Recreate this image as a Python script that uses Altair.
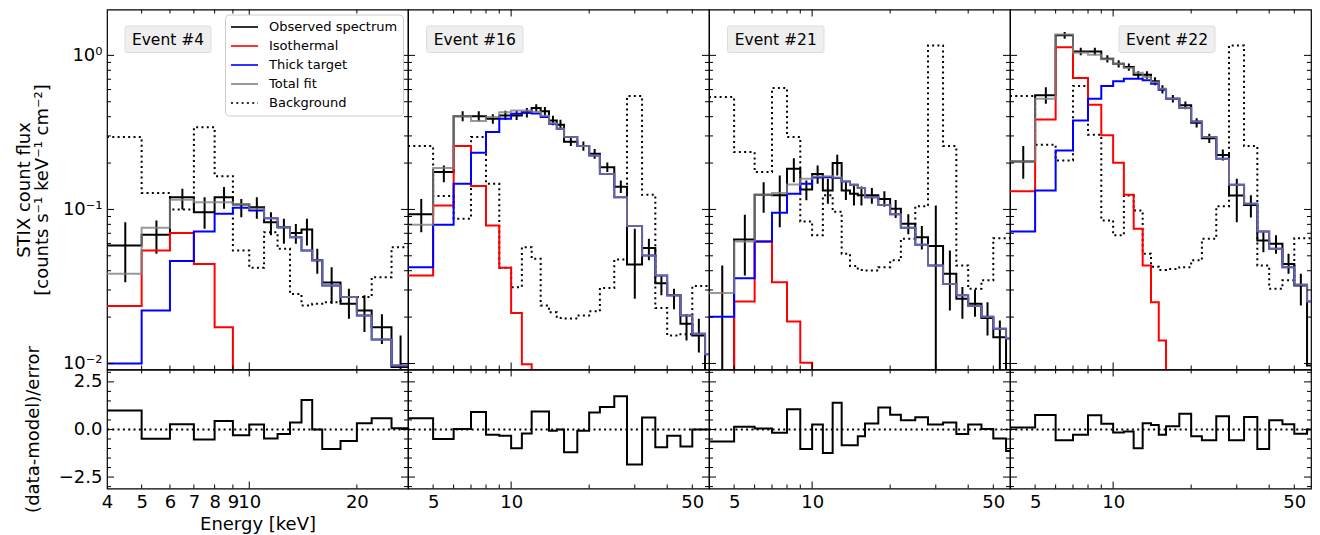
import altair as alt
import pandas as pd

FONT = "DejaVu Sans"

# ---------------- data ----------------
EDGES = [4, 5, 6, 7, 8, 9, 10, 11, 12, 13, 14, 15, 16, 18, 20, 22, 25, 28,
         32, 36, 40, 45, 50, 56, 63]
EVENTS = ["Event #4", "Event #16", "Event #21", "Event #22"]
SERIES = ["Observed spectrum", "Isothermal", "Thick target", "Total fit", "Background"]
OFF = 1e-4  # value below the plotted range (clipped away)

# Event #4 (bins 4 ... 28 keV)
e4_obs = [0.0584, 0.0684, 0.120, 0.096, 0.120, 0.1078, 0.1035, 0.0827, 0.0767, 0.0702,
          0.0741, 0.0467, 0.0335, 0.0244, 0.0221, 0.0172, 0.0095]
e4_lo = [0.0337, 0.0515, 0.100, 0.0748, 0.101, 0.089, 0.087, 0.068, 0.0598, 0.0598,
         0.0584, 0.0382, 0.0244, 0.0195, 0.016, 0.0134, 0.004]
e4_hi = [0.0827, 0.0849, 0.136, 0.120, 0.1396, 0.117, 0.120, 0.096, 0.087, 0.0805,
         0.087, 0.0555, 0.0422, 0.0305, 0.0277, 0.0209, 0.0152]
e4_iso = [0.0236, 0.0542, 0.0702, 0.0443, 0.0172, OFF, OFF, OFF, OFF, OFF, OFF, OFF,
          OFF, OFF, OFF, OFF, OFF]
e4_thick = [0.0100, 0.0221, 0.0462, 0.072, 0.0937, 0.1024, 0.0985, 0.0878, 0.0767, 0.066,
            0.0542, 0.0467, 0.0321, 0.027, 0.0205, 0.0143, 0.0097]
e4_total = [0.0382, 0.076, 0.1155, 0.1115, 0.1115, 0.108, 0.101, 0.0878, 0.0767, 0.066,
            0.0542, 0.0467, 0.0321, 0.027, 0.0205, 0.0143, 0.0097]
e4_bg = [0.295, 0.128, 0.100, 0.342, 0.1645, 0.0542, 0.0418, 0.0712, 0.0555, 0.0283,
         0.0238, 0.0244, 0.025, 0.027, 0.027, 0.0363, 0.0569]
e4_res = [1.0, -0.49, 0.28, -0.52, 0.45, -0.3, 0.26, -0.47, -0.24, 0.36, 1.55, 0.0,
          -1.02, -0.61, 0.33, 0.59, 0.07]

# Event #16 (bins 4 ... 63 keV)
e16_obs = [0.0932, 0.1747, 0.402, 0.402, 0.3877, 0.4077, 0.4077, 0.424, 0.455, 0.433,
           0.378, 0.354, 0.275, 0.2576, 0.2297, 0.188, 0.1404, 0.0439, 0.0561, 0.0332,
           0.0277, 0.0181, 0.0152, OFF]
e16_lo = [0.0712, 0.150, 0.373, 0.373, 0.36, 0.38, 0.38, 0.395, 0.43, 0.405, 0.352,
          0.328, 0.258, 0.240, 0.213, 0.175, 0.128, 0.0263, 0.0467, 0.0277, 0.0225,
          0.0141, 0.0118, OFF]
e16_hi = [0.117, 0.193, 0.433, 0.433, 0.415, 0.437, 0.437, 0.455, 0.482, 0.462, 0.405,
          0.382, 0.292, 0.276, 0.247, 0.202, 0.154, 0.0748, 0.0644, 0.0373, 0.0305,
          0.0209, 0.0195, OFF]
e16_iso = [0.0373, 0.106, 0.2576, 0.1417, 0.0787, 0.0418, 0.0213, 0.0099] + [OFF] * 16
e16_thick = [0.0422, 0.0794, 0.1467, 0.233, 0.318, 0.388, 0.418, 0.428, 0.42, 0.398,
             0.36, 0.3337, 0.295, 0.2576, 0.2243, 0.170, 0.120, 0.078, 0.0503, 0.0373,
             0.0277, 0.0205, 0.0156, 0.0115]
e16_total = [0.0794, 0.1855, 0.402, 0.375, 0.398, 0.428, 0.4395, 0.438, 0.43, 0.405,
             0.362, 0.3337, 0.295, 0.2576, 0.2243, 0.170, 0.120, 0.078, 0.0503, 0.0373,
             0.0277, 0.0205, 0.0156, 0.0115]
e16_bg = [0.2576, 0.122, 0.087, 0.295, 0.1467, 0.0418, 0.0313, 0.0569, 0.0478, 0.0238,
          0.0215, 0.0197, 0.0196, 0.0205, 0.0218, 0.0309, 0.0473, 0.544, 0.1244, 0.0229,
          0.0152, 0.0155, 0.0318, 0.0318]
e16_res = [0.59, -0.5, 0.02, 0.92, -0.28, -0.33, -0.99, -0.21, 0.95, 0.95, -0.07, 0.0,
           -1.2, -0.07, 0.89, 1.18, 1.74, -1.84, 0.63, -0.94, -0.33, -0.9, 0.0, 0.0]

# Event #21
e21_obs = [0.005, 0.0638, 0.1244, 0.1235, 0.1835, 0.1349, 0.170, 0.1328, 0.200, 0.1328,
           0.1263, 0.1235, 0.1235, 0.117, 0.101, 0.0806, 0.066, 0.0578, 0.0382, 0.0263,
           0.0244, 0.0197, 0.0148, OFF]
e21_lo = [OFF, 0.0373, 0.095, 0.0767, 0.150, 0.1145, 0.1467, 0.109, 0.166, 0.115, 0.106,
          0.106, 0.109, 0.104, 0.088, 0.069, 0.055, OFF, 0.0221, 0.0195, 0.0201, 0.0152,
          OFF, OFF]
e21_hi = [0.0433, 0.0922, 0.150, 0.166, 0.215, 0.154, 0.193, 0.158, 0.2267, 0.150, 0.143,
          0.141, 0.138, 0.131, 0.115, 0.093, 0.078, 0.106, 0.0542, 0.0314, 0.0302, 0.025,
          0.019, OFF]
e21_iso = [0.0086, 0.0253, 0.062, 0.0337, 0.0187, 0.0101] + [OFF] * 18
e21_thick = [0.0201, 0.0358, 0.062, 0.095, 0.1263, 0.1467, 0.161, 0.162, 0.160, 0.152,
             0.1445, 0.1375, 0.120, 0.107, 0.093, 0.076, 0.059, 0.0433, 0.0328, 0.0277,
             0.0236, 0.0201, 0.0168, 0.0145]
e21_total = [0.0287, 0.062, 0.1244, 0.128, 0.145, 0.158, 0.1637, 0.164, 0.161, 0.152,
             0.1445, 0.1375, 0.120, 0.107, 0.093, 0.076, 0.059, 0.0433, 0.0328, 0.0277,
             0.0236, 0.0201, 0.0168, 0.0145]
e21_bg = [0.536, 0.2356, 0.1747, 0.613, 0.295, 0.0836, 0.068, 0.1235, 0.0967, 0.0516,
          0.043, 0.0405, 0.0402, 0.0422, 0.0467, 0.0644, 0.105, 1.16, 0.2576, 0.0433,
          0.0305, 0.0347, 0.0651, 0.0651]
e21_res = [-0.63, 0.14, 0.05, -0.17, 1.06, -1.02, 0.26, -1.23, 1.4, -0.83, -0.83, -0.36,
           0.31, 1.15, 0.78, 0.49, 0.64, 0.26, 0.36, -0.24, 0.26, 0.03, -0.47, -1.13]

# Event #22
e22_obs = [0.2048, 0.55, 1.349, 1.06, 1.06, 0.95, 0.882, 0.84, 0.748, 0.748, 0.678,
           0.601, 0.523, 0.474, 0.365, 0.290, 0.226, 0.1233, 0.107, 0.0629, 0.0598,
           0.0443, 0.0321, 0.0097]
e22_lo = [0.158, 0.485, 1.28, 1.0, 1.0, 0.9, 0.835, 0.795, 0.705, 0.705, 0.64, 0.565,
          0.495, 0.447, 0.34, 0.27, 0.208, 0.0827, 0.0887, 0.0528, 0.0516, 0.0382, 0.0238,
          OFF]
e22_hi = [0.2576, 0.622, 1.42, 1.12, 1.12, 1.0, 0.93, 0.885, 0.79, 0.79, 0.72, 0.64,
          0.553, 0.502, 0.39, 0.31, 0.245, 0.158, 0.1235, 0.0712, 0.068, 0.0516, 0.0382,
          OFF]
e22_iso = [0.131, 0.384, 1.13, 0.712, 0.478, 0.3025, 0.2009, 0.1244, 0.0748, 0.0433,
           0.025, 0.0141] + [OFF] * 12
e22_thick = [0.072, 0.1328, 0.2416, 0.378, 0.523, 0.632, 0.678, 0.705, 0.705, 0.69,
             0.654, 0.601, 0.523, 0.455, 0.372, 0.295, 0.213, 0.1445, 0.109, 0.072,
             0.0555, 0.0422, 0.0324, 0.0253]
e22_total = [0.2048, 0.523, 1.368, 1.04, 1.009, 0.942, 0.882, 0.827, 0.771, 0.723, 0.67,
             0.607, 0.523, 0.455, 0.372, 0.295, 0.213, 0.1445, 0.109, 0.072, 0.0555,
             0.0422, 0.0324, 0.0253]
e22_bg = [0.544, 0.263, 0.208, 0.632, 0.305, 0.0849, 0.068, 0.123, 0.0985, 0.0516,
          0.0425, 0.0405, 0.041, 0.0422, 0.0467, 0.0644, 0.105, 1.16, 0.2576, 0.0433,
          0.0305, 0.0347, 0.0651, 0.0651]
e22_res = [0.1, 0.76, -0.57, -0.28, 0.75, 0.3, -0.16, -0.1, -0.99, 0.33, 0.23, -0.28,
           0.17, 0.83, -0.36, -0.57, 0.69, -0.57, 0.66, -1.02, 0.49, 0.28, -0.23, 0.0]

PANELS = [
    dict(obs=e4_obs, lo=e4_lo, hi=e4_hi, iso=e4_iso, thick=e4_thick, total=e4_total, bg=e4_bg, res=e4_res),
    dict(obs=e16_obs, lo=e16_lo, hi=e16_hi, iso=e16_iso, thick=e16_thick, total=e16_total, bg=e16_bg, res=e16_res),
    dict(obs=e21_obs, lo=e21_lo, hi=e21_hi, iso=e21_iso, thick=e21_thick, total=e21_total, bg=e21_bg, res=e21_res),
    dict(obs=e22_obs, lo=e22_lo, hi=e22_hi, iso=e22_iso, thick=e22_thick, total=e22_total, bg=e22_bg, res=e22_res),
]

# axis tick values
X_LABELS = [[4, 5, 6, 7, 8, 9, 10, 20], [5, 10, 50], [5, 10, 50], [5, 10, 50]]
X_MAJOR = [10]
X_MINOR = [5, 6, 7, 8, 9, 20, 30, 40, 50]
Y_MAJOR = [0.01, 0.1, 1]
Y_MINOR = [0.02, 0.03, 0.04, 0.05, 0.06, 0.07, 0.08, 0.09,
           0.2, 0.3, 0.4, 0.5, 0.6, 0.7, 0.8, 0.9]
R_MAJOR = [-2.5, 0.0, 2.5]
R_MINOR = [-3.0, -2.0, -1.5, -1.0, -0.5, 0.5, 1.0, 1.5, 2.0, 3.0]

# ---------------- layout / style ----------------
W = 301
HT = 360
HB = 119
XDOM = [[4, 27.8], [4, 58], [4, 58], [4, 58]]
YDOM = [0.00914, 1.985]
RDOM = [-3.1, 3.15]
COLORS = ["#000000", "#ff0000", "#0000ff", "#808080", "#000000"]
DASHES = [[1, 0], [1, 0], [1, 0], [1, 0], [2, 3.3]]
BOXES = [(18, 104), (18.5, 115), (18.5, 115), (109, 205)]


def edge_ticks(chan, vals, scale, length, H):
    df = pd.DataFrame({"t": vals})
    base = alt.Chart(df).mark_rule(color="black", strokeWidth=1)
    if chan == "y":
        enc = alt.Y("t:Q", scale=scale, axis=None)
        return [base.encode(y=enc, x=alt.value(0), x2=alt.value(length)),
                base.encode(y=enc, x=alt.value(W - length), x2=alt.value(W))]
    enc = alt.X("t:Q", scale=scale, axis=None)
    return [base.encode(x=enc, y=alt.value(0), y2=alt.value(length)),
            base.encode(x=enc, y=alt.value(H - length), y2=alt.value(H))]


def in_dom(vals, dom):
    return [v for v in vals if dom[0] < v < dom[1]]


def top_panel(k):
    d = PANELS[k]
    n = len(d["obs"])
    edges = EDGES[:n + 1]
    xs = alt.Scale(type="log", domain=XDOM[k], nice=False)
    ys = alt.Scale(type="log", domain=YDOM, nice=False)
    cs = alt.Scale(domain=SERIES, range=COLORS)
    ds = alt.Scale(domain=SERIES, range=DASHES)
    if k == 0:
        leg = alt.Legend(title=None, orient="top-right", offset=5, symbolType="stroke",
                         symbolSize=729, symbolStrokeWidth=2, clipHeight=15, rowPadding=4,
                         labelFont=FONT, labelFontSize=13, labelColor="black", labelOffset=10,
                         padding=5, fillColor="white", strokeColor="#cccccc", cornerRadius=4)
        yaxis = alt.Axis(orient="left", values=Y_MAJOR, ticks=False, tickSize=0, domain=False,
                         grid=False,
                         labelExpr="datum.value > 0.5 ? '10\u2070' : datum.value > 0.05 ? '10\u207b\u00b9' : '10\u207b\u00b2'",
                         labelPadding=5, labelFontSize=18,
                         title=["STIX count flux", "[counts s\u207b\u00b9 keV\u207b\u00b9 cm\u207b\u00b2]"],
                         titleX=-82.5, titleY=HT / 2, titleAngle=-90, titleAlign="center",
                         titleBaseline="middle", titleLineHeight=18, titleFontSize=18)
    else:
        leg = None
        yaxis = None

    def step(vals, name, axis=None, **mk):
        df = pd.DataFrame({"E": edges, "v": list(vals) + [vals[-1]], "series": name})
        return alt.Chart(df).mark_line(interpolate="step-after", clip=True, strokeWidth=2, **mk).encode(
            x=alt.X("E:Q", scale=xs, axis=None),
            y=alt.Y("v:Q", scale=ys, axis=axis),
            color=alt.Color("series:N", scale=cs, legend=leg),
            strokeDash=alt.StrokeDash("series:N", scale=ds, legend=leg),
        )

    centers = [(edges[j] + edges[j + 1]) / 2 for j in range(n)]
    edf = pd.DataFrame({"Ec": centers, "lo": d["lo"], "hi": d["hi"]})
    err = alt.Chart(edf).mark_rule(color="black", strokeWidth=2, clip=True).encode(
        x=alt.X("Ec:Q", scale=xs, axis=None),
        y=alt.Y("lo:Q", scale=ys, axis=None),
        y2="hi:Q",
    )

    lab = pd.DataFrame({"t": [EVENTS[k]]})
    bx0, bx1 = BOXES[k]
    box = alt.Chart(lab).mark_rect(fill="#efefef", stroke="#dddddd", strokeWidth=1,
                                   cornerRadius=2).encode(
        x=alt.value(bx0), x2=alt.value(bx1), y=alt.value(16.5), y2=alt.value(43))
    txt = alt.Chart(lab).mark_text(font=FONT, fontSize=15.5, color="black").encode(
        x=alt.value((bx0 + bx1) / 2), y=alt.value(30), text="t:N")

    layers = [
        step(d["obs"], "Observed spectrum", axis=yaxis),
        step(d["bg"], "Background"),
        err,
        step(d["iso"], "Isothermal"),
        step(d["thick"], "Thick target"),
        step(d["total"], "Total fit", opacity=0.8),
        box, txt,
    ]
    layers += edge_ticks("y", in_dom(Y_MAJOR, YDOM), ys, 7, HT)
    layers += edge_ticks("y", in_dom(Y_MINOR, YDOM), ys, 4, HT)
    layers += edge_ticks("x", in_dom(X_MAJOR, XDOM[k]), xs, 7, HT)
    layers += edge_ticks("x", in_dom(X_MINOR, XDOM[k]), xs, 4, HT)
    return alt.layer(*layers).resolve_axis(x="independent", y="independent").properties(
        width=W, height=HT)


def bot_panel(k):
    d = PANELS[k]
    n = len(d["res"])
    edges = EDGES[:n + 1]
    xs = alt.Scale(type="log", domain=XDOM[k], nice=False)
    rs = alt.Scale(domain=RDOM, nice=False, zero=False)
    xaxis = alt.Axis(orient="bottom", values=X_LABELS[k], format="d", ticks=False, tickSize=0,
                     domain=False, grid=False, labelPadding=5, labelFontSize=18,
                     labelOverlap=False, labelFlush=False,
                     title="Energy [keV]" if k == 0 else None, titleFontSize=18,
                     titlePadding=4)
    if k == 0:
        yaxis = alt.Axis(orient="left", values=R_MAJOR, format=".1f", ticks=False, tickSize=0,
                         domain=False, grid=False, labelPadding=5, labelFontSize=18,
                         title="(data-model)/error", titleX=-74, titleY=HB / 2,
                         titleAngle=-90, titleAlign="center", titleBaseline="middle",
                         titleFontSize=18)
    else:
        yaxis = None
    df = pd.DataFrame({"E": edges, "r": list(d["res"]) + [d["res"][-1]]})
    line = alt.Chart(df).mark_line(interpolate="step-after", clip=True, strokeWidth=2,
                                   color="black").encode(
        x=alt.X("E:Q", scale=xs, axis=xaxis),
        y=alt.Y("r:Q", scale=rs, axis=yaxis),
    )
    zero = alt.Chart(pd.DataFrame({"z": [0.0]})).mark_rule(
        color="black", strokeWidth=2, strokeDash=[2, 3.3]).encode(
        y=alt.Y("z:Q", scale=rs, axis=None), x=alt.value(0), x2=alt.value(W))
    layers = [line, zero]
    layers += edge_ticks("y", R_MAJOR, rs, 7, HB)
    layers += edge_ticks("y", R_MINOR, rs, 4, HB)
    layers += edge_ticks("x", in_dom(X_MAJOR, XDOM[k]), xs, 7, HB)
    layers += edge_ticks("x", in_dom(X_MINOR, XDOM[k]), xs, 4, HB)
    return alt.layer(*layers).resolve_axis(x="independent", y="independent").properties(
        width=W, height=HB)


tops = [top_panel(k) for k in range(4)]
bots = [bot_panel(k) for k in range(4)]

chart = alt.concat(*tops, *bots, columns=4, spacing=0, bounds="flush").resolve_scale(
    x="independent", y="independent", color="independent", strokeDash="independent"
).properties(
    padding={"left": 14, "top": 7.5, "right": 5, "bottom": 0},
    background="white",
).configure_view(
    stroke="black", strokeWidth=1.2
).configure_axis(
    labelFont=FONT, titleFont=FONT, labelColor="black", titleColor="black",
    titleFontWeight="normal"
)

chart.save("out.html", embed_options={"renderer": "svg", "actions": False})
